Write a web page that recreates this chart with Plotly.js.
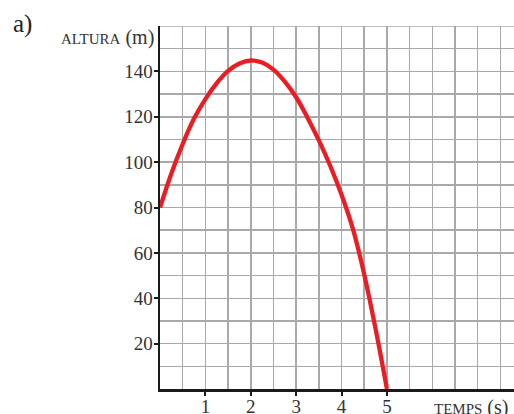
<!DOCTYPE html>
<html>
<head>
<meta charset="utf-8">
<script src="https://cdn.plot.ly/plotly-3.0.1.min.js"></script>
<style>
html,body{margin:0;padding:0;background:#fff;}
#chart{width:514px;height:414px;}
</style>
</head>
<body>
<div id="chart"></div>
<script>
// Data (time in s, height in m)
const tempsS = [0, 0.25, 0.5, 0.75, 1, 1.25, 1.5, 1.75, 2, 2.25, 2.5, 2.75, 3, 3.25, 3.5, 3.75, 4, 4.25, 4.5, 4.75, 5];
const alturaM = [80, 95, 108, 119.2, 127.8, 134.8, 140.2, 143.5, 144.8, 143.9, 140.8, 135.5, 128.6, 119.6, 109.6, 98.4, 85.6, 70.6, 50.5, 26.5, 0];
const xTickVals = [1, 2, 3, 4, 5];
const xTickText = ['1', '2', '3', '4', '5'];
const yTickVals = [20, 40, 60, 80, 100, 120, 140];
const yTickText = ['20', '40', '60', '80', '100', '120', '140'];

const FONT = 'Liberation Serif, Times New Roman, serif';
const GRID = '#a9a9a9';

const trace = {
  x: tempsS,
  y: alturaM,
  type: 'scatter',
  mode: 'lines',
  line: {color: '#ec1c24', width: 4.3, shape: 'spline', smoothing: 1},
  hoverinfo: 'skip',
  cliponaxis: true
};

const layout = {
  width: 514,
  height: 414,
  margin: {l: 160, r: 0, t: 26, b: 25, pad: 0},
  paper_bgcolor: '#fff',
  plot_bgcolor: '#fff',
  showlegend: false,
  font: {family: FONT, size: 19, color: '#333'},
  xaxis: {
    range: [0, 7.8],
    tickmode: 'array',
    tickvals: xTickVals,
    ticktext: xTickText,
    showgrid: true,
    gridcolor: GRID,
    gridwidth: 1.5,
    minor: {tickmode: 'linear', tick0: 0, dtick: 0.5, showgrid: true, gridcolor: GRID, gridwidth: 1.5, ticks: ''},
    showline: true,
    linecolor: '#1a1a1a',
    linewidth: 2.5,
    zeroline: false,
    ticks: 'outside',
    ticklen: 4,
    tickwidth: 2,
    tickcolor: '#1a1a1a',
    ticklabelstandoff: -5,
    tickfont: {family: FONT, size: 19, color: '#333'},
    fixedrange: true
  },
  yaxis: {
    range: [0, 160],
    tickmode: 'array',
    tickvals: yTickVals,
    ticktext: yTickText,
    showgrid: true,
    gridcolor: GRID,
    gridwidth: 1.5,
    minor: {tickmode: 'linear', tick0: 0, dtick: 10, showgrid: true, gridcolor: GRID, gridwidth: 1.5, ticks: ''},
    showline: true,
    linecolor: '#1a1a1a',
    linewidth: 2.5,
    zeroline: false,
    ticks: 'outside',
    ticklen: 4,
    tickwidth: 2,
    tickcolor: '#1a1a1a',
    ticklabelstandoff: -3,
    tickfont: {family: FONT, size: 19, color: '#333'},
    fixedrange: true
  },
  shapes: [
    {type: 'line', xref: 'paper', yref: 'y', x0: 0, x1: 1, y0: 160, y1: 160, line: {color: GRID, width: 1.5}, layer: 'below'}
  ],
  annotations: [
    {text: 'a)', xref: 'paper', yref: 'paper', x: -0.42, y: 1.005, xanchor: 'left', yanchor: 'middle', showarrow: false, font: {family: FONT, size: 25, color: '#222'}},
    {text: "<span style='font-size:15px'>ALTURA</span> (m)", xref: 'paper', yref: 'paper', x: -0.012, y: 0.968, xanchor: 'right', yanchor: 'middle', showarrow: false, font: {family: FONT, size: 20, color: '#333'}},
    {text: "<span style='font-size:15px'>TEMPS</span> (s)", xref: 'paper', yref: 'paper', x: 0.99, y: -0.05, xanchor: 'right', yanchor: 'middle', showarrow: false, font: {family: FONT, size: 20, color: '#333'}}
  ]
};

Plotly.newPlot('chart', [trace], layout, {displayModeBar: false, staticPlot: true});
</script>
</body>
</html>
